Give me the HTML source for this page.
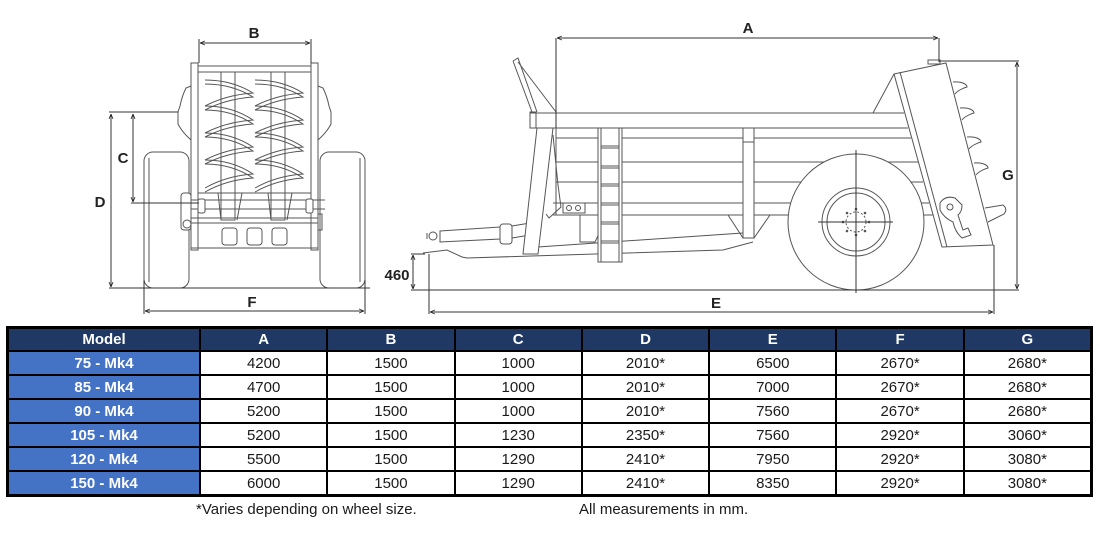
<!DOCTYPE html>
<html><head><meta charset="utf-8">
<style>
html,body{margin:0;padding:0;background:#fff;}
body{width:1100px;height:536px;position:relative;overflow:hidden;font-family:"Liberation Sans",Arial,sans-serif;}
svg{position:absolute;left:0;top:0;}
.tbl{position:absolute;left:6px;top:326px;width:1081px;height:165px;padding:3px;background:#000;display:grid;grid-template-columns:190px repeat(7,1fr);grid-template-rows:21px repeat(6,1fr);gap:2px;}
.tbl div{display:flex;align-items:center;justify-content:center;font-size:15px;color:#1a1a1a;background:#fff;line-height:1;}
.tbl .h{background:#1F3864;color:#fff;font-weight:bold;}
.tbl .m{background:#4472C4;color:#fff;font-weight:bold;}
.note{position:absolute;top:501px;font-size:15px;color:#1a1a1a;white-space:nowrap;}
</style></head><body>
<svg width="1100" height="326" viewBox="0 0 1100 326">
<defs>
<marker id="ar" viewBox="0 0 10 10" refX="10" refY="5" markerWidth="5" markerHeight="5" orient="auto-start-reverse"><path d="M0,1 L10,5 L0,9" fill="none" stroke="#222" stroke-width="1.6"/></marker>
</defs>

<!-- FRONT VIEW -->
<g stroke="#555" fill="none" stroke-width="1">
<rect x="144" y="152" width="45" height="136" rx="9"/>
<rect x="320" y="152" width="45" height="136" rx="9"/>
<line x1="149" y1="158" x2="149" y2="282"/>
<line x1="360" y1="158" x2="360" y2="282"/>
<path d="M191,86 L186,88 Q182,96 180,106 L178,112 L178,124 Q182,132 191,140"/>
<path d="M318,86 L323,88 Q327,96 329,106 L331,112 L331,124 Q327,132 318,140"/>
<rect x="191" y="63" width="7" height="187" fill="#fff"/>
<rect x="311" y="63" width="7" height="187" fill="#fff"/>
<line x1="198" y1="66" x2="311" y2="66"/>
<line x1="198" y1="72" x2="311" y2="72"/>
<rect x="221" y="72" width="14" height="148" fill="#fff"/>
<rect x="271" y="72" width="14" height="148" fill="#fff"/>
<path d="M205,80 Q232,80 253,93 Q226,95 205,106 Q232,106 253,120 Q226,122 205,133 Q232,133 253,147 Q226,149 205,160 Q232,160 253,174 Q226,176 205,188"/>
<path d="M205,84 Q232,84 253,97 Q226,99 205,110 Q232,110 253,124 Q226,126 205,137 Q232,137 253,151 Q226,153 205,164 Q232,164 253,178 Q226,180 205,192"/>
<path d="M255,80 Q282,80 303,93 Q276,95 255,106 Q282,106 303,120 Q276,122 255,133 Q282,133 303,147 Q276,149 255,160 Q282,160 303,174 Q276,176 255,188"/>
<path d="M255,84 Q282,84 303,97 Q276,99 255,110 Q282,110 303,124 Q276,126 255,137 Q282,137 303,151 Q276,153 255,164 Q282,164 303,178 Q276,180 255,192"/>
<line x1="198" y1="193" x2="311" y2="193"/>
<path d="M218,193 L221,220 M242,193 L237,220 M268,193 L271,220 M292,193 L287,220"/>
<line x1="185" y1="200" x2="325" y2="200"/>
<line x1="185" y1="209" x2="325" y2="209"/>
<rect x="198" y="199" width="7" height="14" rx="2" fill="#fff"/>
<rect x="306" y="199" width="7" height="14" rx="2" fill="#fff"/>
<line x1="191" y1="218" x2="318" y2="218"/>
<line x1="191" y1="223" x2="318" y2="223"/>
<rect x="191" y="223" width="127" height="25"/>
<rect x="222" y="228" width="15" height="17" rx="3"/>
<rect x="247" y="228" width="15" height="17" rx="3"/>
<rect x="272" y="228" width="15" height="17" rx="3"/>
<rect x="181" y="193" width="10" height="37" rx="3" fill="#fff"/>
<circle cx="187" cy="224" r="4"/>
<rect x="318" y="214" width="4" height="16"/>
</g>
<g stroke="#333" fill="none" stroke-width="1">
<line x1="200" y1="43" x2="310" y2="43" marker-start="url(#ar)" marker-end="url(#ar)"/>
<line x1="199" y1="39" x2="199" y2="63"/>
<line x1="311" y1="39" x2="311" y2="63"/>
<line x1="109" y1="112" x2="178" y2="112"/>
<line x1="131" y1="203" x2="199" y2="203"/>
<line x1="133" y1="114" x2="133" y2="202" marker-start="url(#ar)" marker-end="url(#ar)"/>
<line x1="111" y1="114" x2="111" y2="287" marker-start="url(#ar)" marker-end="url(#ar)"/>
<line x1="109" y1="288" x2="370" y2="288"/>
<line x1="144" y1="280" x2="144" y2="314"/>
<line x1="365" y1="280" x2="365" y2="314"/>
<line x1="145" y1="311" x2="364" y2="311" marker-start="url(#ar)" marker-end="url(#ar)"/>
</g>

<!-- SIDE VIEW -->
<g stroke="#555" fill="none" stroke-width="1">
<path d="M513,61 L518,58 L537,112 M513,61 L532,112"/>
<line x1="518" y1="62" x2="556" y2="112"/>
<rect x="530" y="112" width="6" height="16"/>
<path d="M530,113 L904,113 M530,128 L908,128"/>
<line x1="556" y1="128" x2="556" y2="215"/>
<line x1="556" y1="138" x2="911" y2="138"/>
<line x1="556" y1="162" x2="918" y2="162"/>
<line x1="556" y1="182" x2="923" y2="182"/>
<line x1="553" y1="203" x2="929" y2="203"/>
<line x1="553" y1="215" x2="933" y2="215"/>
<rect x="743" y="128" width="11" height="110" fill="#fff"/>
<line x1="743" y1="142" x2="754" y2="142"/>
<path d="M728,215 L743,238 M770,215 L754,238"/>
<path d="M467,258 L723,250 L753,242 M538,247 L743,233"/>
<path d="M423,253 L447,250 L462,257 L467,258"/>
<path d="M580,215 L580,242 L595,242 L608,215"/>
<rect x="598" y="128" width="24" height="134" fill="#fff"/>
<line x1="601" y1="128" x2="601" y2="262"/>
<line x1="619" y1="128" x2="619" y2="262"/>
<path d="M601,146 H619 M601,148 H619 M601,166 H619 M601,168 H619 M601,184 H619 M601,186 H619 M601,203 H619 M601,205 H619 M601,222 H619 M601,224 H619 M601,241 H619 M601,243 H619"/>
<path d="M440,231 L500,227 L500,239 L440,242 Z" fill="#fff"/>
<rect x="500" y="224" width="12" height="20" rx="3" fill="#fff"/>
<path d="M512,226 L530,223 M512,238 L530,235"/>
<circle cx="433" cy="236" r="4" fill="#fff"/>
<line x1="427" y1="233" x2="427" y2="239"/>
<path d="M553,135 L558,185 L561,207 L549,218 L546,214"/>
<polygon points="537,128 553,128 538,254 523,254" fill="#fff"/>
<rect x="563" y="203" width="22" height="10"/>
<circle cx="569" cy="208" r="2.5"/>
<circle cx="578" cy="208" r="2.5"/>
<circle cx="856" cy="222" r="68" fill="#fff"/>
<circle cx="856" cy="222" r="34"/>
<circle cx="856" cy="222" r="29"/>
<circle cx="856" cy="222" r="10" stroke-dasharray="2,2"/>
<g fill="#555" stroke="none">
<circle cx="869" cy="222" r="1.3"/><circle cx="843" cy="222" r="1.3"/>
<circle cx="856" cy="209" r="1.3"/><circle cx="856" cy="235" r="1.3"/>
<circle cx="865" cy="213" r="1.3"/><circle cx="847" cy="213" r="1.3"/>
<circle cx="865" cy="231" r="1.3"/><circle cx="847" cy="231" r="1.3"/>
</g>
<path d="M873,113 L894,74"/>
<polygon points="894,74 946,63 993,245 942,247" fill="#fff"/>
<line x1="900" y1="72" x2="947" y2="247"/>
<rect x="928" y="60" width="12" height="4" fill="#fff"/>
<path d="M953,82 C963,81 967,85 967,87 C963,88 957,91 955,94"/>
<path d="M960,108 C970,107 974,111 974,113 C970,114 964,117 962,120"/>
<path d="M967,137 C977,136 981,140 981,142 C977,143 971,146 969,149"/>
<path d="M974,163 C984,162 988,166 988,168 C984,169 978,172 976,175"/>
<path d="M985,208 L1003,205 Q1008,209 1004,214 L988,222"/>
<path d="M940,203 Q945,195 955,198 L962,205 Q962,212 958,215 L963,230 L968,228 L971,235 L962,238 Q955,232 953,222 Q944,218 940,210 Z" fill="#fff"/>
<circle cx="950" cy="207" r="3"/>
</g>
<g stroke="#333" fill="none" stroke-width="1">
<line x1="856" y1="150" x2="856" y2="293"/>
<line x1="818" y1="222" x2="893" y2="222"/>
<path d="M556,128 L556,38 M939,38 L939,62"/>
<line x1="557" y1="38" x2="938" y2="38" marker-start="url(#ar)" marker-end="url(#ar)"/>
<line x1="940" y1="61" x2="1019" y2="61"/>
<line x1="1017" y1="62" x2="1017" y2="289" marker-start="url(#ar)" marker-end="url(#ar)"/>
<line x1="411" y1="290" x2="1019" y2="290"/>
<line x1="411" y1="254" x2="425" y2="254"/>
<line x1="413" y1="255" x2="413" y2="289" marker-start="url(#ar)" marker-end="url(#ar)"/>
<line x1="429" y1="254" x2="429" y2="314"/>
<line x1="994" y1="245" x2="994" y2="314"/>
<line x1="430" y1="312" x2="993" y2="312" marker-start="url(#ar)" marker-end="url(#ar)"/>
</g>

<g font-family="Liberation Sans, Arial, sans-serif" font-weight="bold" font-size="15" fill="#222" text-anchor="middle">
<text x="254" y="38">B</text>
<text x="123" y="163">C</text>
<text x="100" y="207">D</text>
<text x="252" y="307">F</text>
<text x="748" y="33">A</text>
<text x="716" y="308">E</text>
<text x="1008" y="180">G</text>
<text x="397" y="280">460</text>
</g>
</svg>

<div class="tbl">
<div class="h">Model</div><div class="h">A</div><div class="h">B</div><div class="h">C</div><div class="h">D</div><div class="h">E</div><div class="h">F</div><div class="h">G</div>
<div class="m">75 - Mk4</div><div>4200</div><div>1500</div><div>1000</div><div>2010*</div><div>6500</div><div>2670*</div><div>2680*</div>
<div class="m">85 - Mk4</div><div>4700</div><div>1500</div><div>1000</div><div>2010*</div><div>7000</div><div>2670*</div><div>2680*</div>
<div class="m">90 - Mk4</div><div>5200</div><div>1500</div><div>1000</div><div>2010*</div><div>7560</div><div>2670*</div><div>2680*</div>
<div class="m">105 - Mk4</div><div>5200</div><div>1500</div><div>1230</div><div>2350*</div><div>7560</div><div>2920*</div><div>3060*</div>
<div class="m">120 - Mk4</div><div>5500</div><div>1500</div><div>1290</div><div>2410*</div><div>7950</div><div>2920*</div><div>3080*</div>
<div class="m">150 - Mk4</div><div>6000</div><div>1500</div><div>1290</div><div>2410*</div><div>8350</div><div>2920*</div><div>3080*</div>
</div>
<div class="note" style="left:196px;">*Varies depending on wheel size.</div>
<div class="note" style="left:579px;">All measurements in mm.</div>
</body></html>
